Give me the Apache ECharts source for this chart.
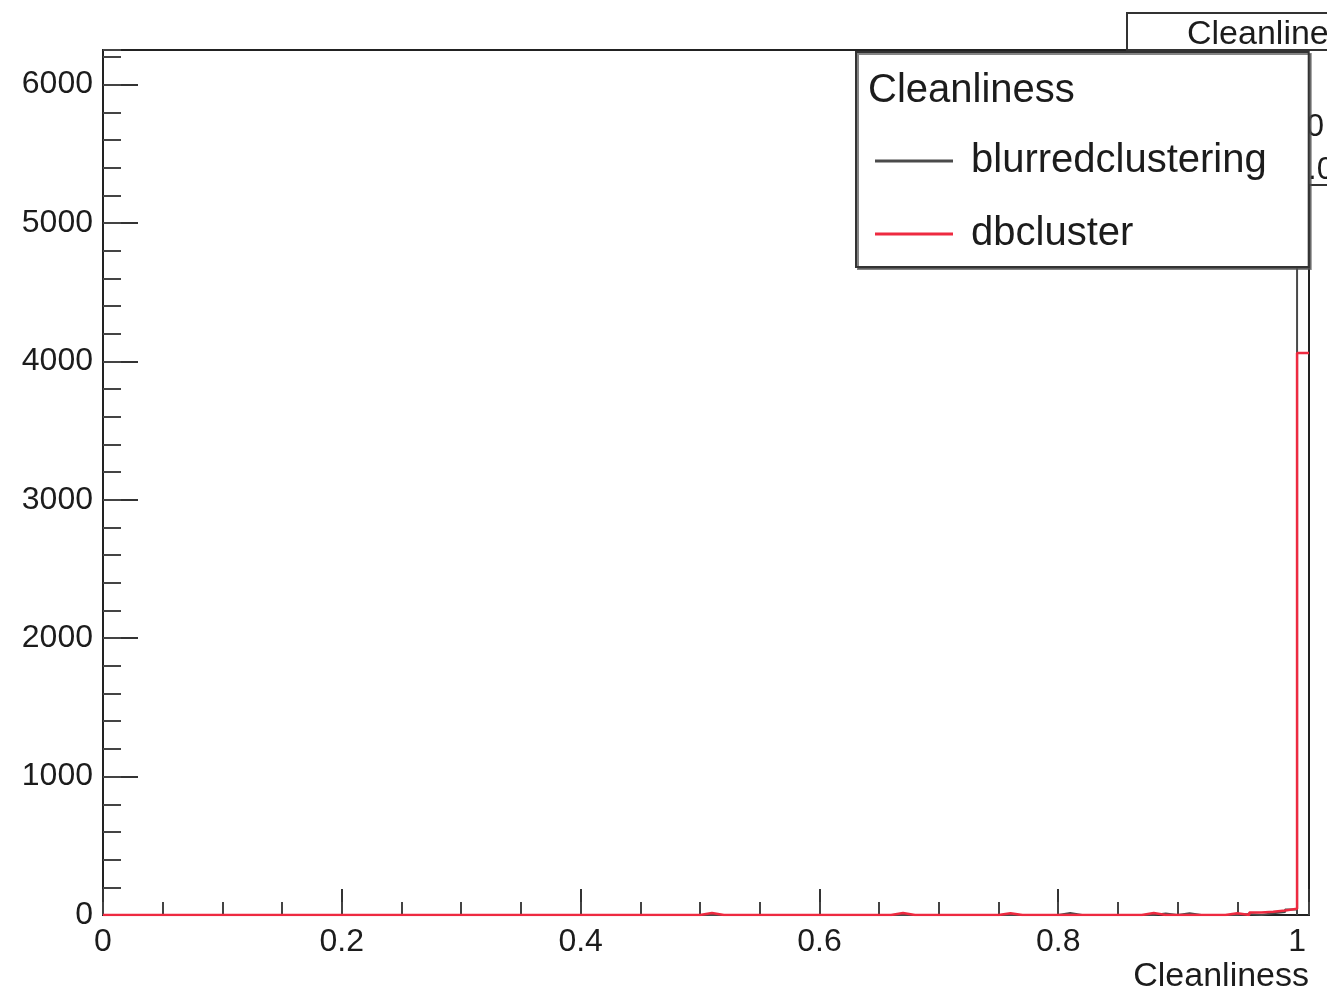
<!DOCTYPE html>
<html>
<head>
<meta charset="utf-8">
<title>Cleanliness</title>
<script src="https://cdn.jsdelivr.net/npm/echarts@6/dist/echarts.min.js"></script>
<style>
  html, body { margin: 0; padding: 0; background: #ffffff; }
  #chart { width: 1327px; height: 994px; }
</style>
</head>
<body>
<div id="chart"></div>
<script>
// Histogram binning: 101 bins of width 0.01 starting at 0
const BIN_WIDTH = 0.01;
const X_MIN = 0;
const X_MAX = 1.01;
const Y_MAX = 6250;

const seriesNames = ['blurredclustering', 'dbcluster'];

// Bin contents, bin i covers [i*0.01, (i+1)*0.01)
const blurredclusteringCounts = [
  0, 0, 0, 0, 0, 0, 0, 0, 0, 0,
  0, 0, 0, 0, 0, 0, 0, 0, 0, 0,
  0, 0, 0, 0, 0, 0, 0, 0, 0, 0,
  0, 0, 0, 0, 0, 0, 0, 0, 0, 0,
  0, 0, 0, 0, 0, 0, 0, 0, 0, 0,
  0, 0, 0, 0, 0, 0, 0, 0, 0, 0,
  0, 0, 0, 0, 0, 0, 0, 0, 0, 0,
  0, 0, 0, 0, 0, 0, 0, 0, 0, 0,
  14, 0, 0, 0, 0, 0, 0, 0, 10, 0,
  12, 0, 0, 0, 0, 8, 0, 12, 22, 40,
  9100
];

const dbclusterCounts = [
  0, 0, 0, 0, 0, 0, 0, 0, 0, 0,
  0, 0, 0, 0, 0, 0, 0, 0, 0, 0,
  0, 0, 0, 0, 0, 0, 0, 0, 0, 0,
  0, 0, 0, 0, 0, 0, 0, 0, 0, 0,
  0, 0, 0, 0, 0, 0, 0, 0, 0, 0,
  14, 0, 0, 0, 0, 0, 0, 0, 0, 0,
  0, 0, 0, 0, 0, 0, 14, 0, 0, 0,
  0, 0, 0, 0, 0, 12, 0, 0, 0, 0,
  0, 0, 0, 0, 0, 0, 0, 14, 0, 0,
  0, 0, 0, 0, 12, 0, 18, 24, 32, 45,
  4060
];

// Statistics box rows (label, value)
const statsTitle = 'Cleanliness';
const statsLabels = ['Entries', 'Mean', 'Std Dev'];
const statsValues = ['5012', '0.9960', '0.0347'];

const FONT = '"Liberation Sans", Arial, Helvetica, sans-serif';
const TEXT_COLOR = '#1c1c1c';
const FRAME_COLOR = '#222222';

// Step-line points: left edge of each bin, plus the closing right edge
function histPoints(counts) {
  const pts = counts.map((c, i) => [+(X_MIN + i * BIN_WIDTH).toFixed(4), c]);
  pts.push([+(X_MIN + counts.length * BIN_WIDTH).toFixed(4), counts[counts.length - 1]]);
  return pts;
}

const chart = echarts.init(document.getElementById('chart'), null, { renderer: 'canvas' });

const gridBox = { left: 103, right: 18, top: 50, bottom: 78 };

const option = {
  backgroundColor: '#ffffff',
  animation: false,
  grid: Object.assign({
    show: true,
    borderColor: FRAME_COLOR,
    borderWidth: 2,
    backgroundColor: 'transparent'
  }, gridBox),
  xAxis: [
    {
      type: 'value',
      position: 'bottom',
      min: X_MIN,
      max: X_MAX,
      interval: 0.2,
      name: 'Cleanliness',
      nameLocation: 'end',
      nameGap: 0,
      nameTextStyle: {
        fontFamily: FONT, fontSize: 34, color: TEXT_COLOR,
        align: 'right', verticalAlign: 'top', padding: [45, 0, 0, 0]
      },
      axisLine: { show: true, onZero: false, lineStyle: { color: FRAME_COLOR, width: 2 } },
      axisTick: { show: true, inside: true, length: 26, lineStyle: { color: '#333', width: 2 } },
      axisLabel: {
        fontFamily: FONT, fontSize: 32, color: TEXT_COLOR, margin: 11,
        showMaxLabel: true,
        formatter: function (v) {
          const k = v / 0.2;
          return Math.abs(k - Math.round(k)) < 1e-6 ? String(+v.toFixed(1)) : '';
        }
      },
      splitLine: { show: false }
    },
    {
      // minor ticks every 0.05
      type: 'value',
      position: 'bottom',
      min: X_MIN,
      max: X_MAX,
      interval: 0.05,
      axisLine: { show: false },
      axisTick: { show: true, inside: true, length: 13, lineStyle: { color: '#444', width: 2 } },
      axisLabel: { show: false },
      splitLine: { show: false }
    }
  ],
  yAxis: [
    {
      type: 'value',
      position: 'left',
      min: 0,
      max: Y_MAX,
      interval: 1000,
      axisLine: { show: true, onZero: false, lineStyle: { color: FRAME_COLOR, width: 2 } },
      axisTick: { show: true, inside: true, length: 35, lineStyle: { color: '#333', width: 2 } },
      axisLabel: {
        fontFamily: FONT, fontSize: 32, color: TEXT_COLOR, margin: 10,
        showMaxLabel: false,
        formatter: function (v) { return v % 1000 === 0 ? String(v) : ''; }
      },
      splitLine: { show: false }
    },
    {
      // minor ticks every 200
      type: 'value',
      position: 'left',
      min: 0,
      max: Y_MAX,
      interval: 200,
      axisLine: { show: false },
      axisTick: { show: true, inside: true, length: 18, lineStyle: { color: '#444', width: 2 } },
      axisLabel: { show: false },
      splitLine: { show: false }
    }
  ],
  legend: {
    orient: 'vertical',
    left: 856,
    top: 52,
    padding: [89, 42, 13, 19],
    itemGap: 33,
    itemWidth: 78,
    itemHeight: 3,
    icon: 'rect',
    backgroundColor: '#ffffff',
    borderColor: '#333333',
    borderWidth: 2,
    borderRadius: 0,
    shadowColor: 'rgba(80,80,80,0.7)',
    shadowBlur: 0,
    shadowOffsetX: 2,
    shadowOffsetY: 2,
    selectedMode: false,
    textStyle: { fontFamily: FONT, fontSize: 40, color: TEXT_COLOR, padding: [0, 0, 0, 13] },
    data: seriesNames
  },
  series: [
    {
      name: seriesNames[0],
      type: 'line',
      step: 'end',
      symbol: 'none',
      color: '#4a4a4a',
      lineStyle: { color: '#4a4a4a', width: 2 },
      clip: true,
      z: 2,
      data: histPoints(blurredclusteringCounts)
    },
    {
      name: seriesNames[1],
      type: 'line',
      step: 'end',
      symbol: 'none',
      color: '#ee2a40',
      lineStyle: { color: '#ee2a40', width: 2.5 },
      clip: true,
      z: 3,
      data: histPoints(dbclusterCounts)
    }
  ],
  graphic: [
    // statistics box (mostly hidden behind the legend)
    {
      type: 'group',
      z: 3,
      children: [
        { type: 'rect', shape: { x: 1127, y: 13, width: 260, height: 172 },
          style: { fill: '#ffffff', stroke: '#333333', lineWidth: 2 }, z: 3 },
        { type: 'line', shape: { x1: 1127, y1: 50, x2: 1387, y2: 50 },
          style: { stroke: '#333333', lineWidth: 2 }, z: 3 },
        { type: 'text', x: 1187, y: 18,
          style: { text: statsTitle, font: '34px ' + FONT, fill: TEXT_COLOR }, z: 3 },
        { type: 'text', x: 1140, y: 68,
          style: { text: statsLabels[0], font: '32px ' + FONT, fill: TEXT_COLOR }, z: 3 },
        { type: 'text', x: 1335, y: 68,
          style: { text: statsValues[0], font: '32px ' + FONT, fill: TEXT_COLOR }, z: 3 },
        { type: 'text', x: 1140, y: 111,
          style: { text: statsLabels[1], font: '32px ' + FONT, fill: TEXT_COLOR }, z: 3 },
        { type: 'text', x: 1324, y: 111,
          style: { text: statsValues[1], font: '32px ' + FONT, fill: TEXT_COLOR, align: 'right' }, z: 3 },
        { type: 'text', x: 1140, y: 154,
          style: { text: statsLabels[2], font: '32px ' + FONT, fill: TEXT_COLOR }, z: 3 },
        { type: 'text', x: 1290, y: 154,
          style: { text: statsValues[2], font: '32px ' + FONT, fill: TEXT_COLOR }, z: 3 }
      ]
    },
    // legend header
    {
      type: 'text',
      x: 868,
      y: 71,
      z: 100,
      style: { text: 'Cleanliness', font: '40px ' + FONT, fill: TEXT_COLOR }
    }
  ]
};

chart.setOption(option);
</script>
</body>
</html>
